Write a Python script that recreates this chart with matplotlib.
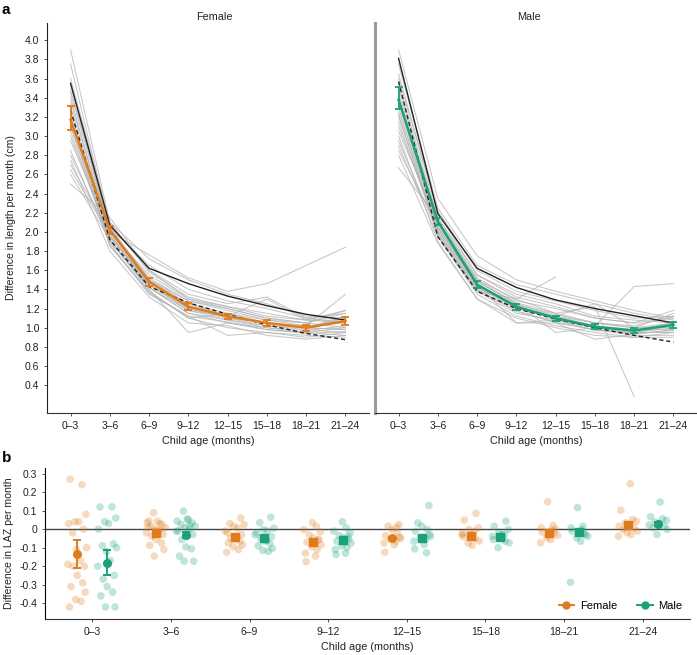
import matplotlib
matplotlib.use("Agg")
import matplotlib.pyplot as plt
from matplotlib.lines import Line2D
import numpy as np

plt.rcParams['font.family'] = ['Liberation Sans', 'DejaVu Sans']

ages = ['0–3', '3–6', '6–9', '9–12', '12–15', '15–18', '18–21', '21–24']

# ---- panel a: length velocity (cm per month) ----
female_mean = [3.17, 2.02, 1.48, 1.22, 1.12, 1.05, 1.00, 1.07]
female_lo = [3.06, 1.98, 1.44, 1.18, 1.095, 1.02, 0.97, 1.03]
female_hi = [3.31, 2.06, 1.52, 1.26, 1.145, 1.08, 1.03, 1.11]
male_mean = [3.38, 2.11, 1.45, 1.22, 1.10, 1.01, 0.97, 1.03]
male_lo = [3.28, 2.07, 1.415, 1.19, 1.075, 0.985, 0.945, 1.00]
male_hi = [3.51, 2.15, 1.485, 1.25, 1.125, 1.035, 0.995, 1.06]

# reference curves (solid / dashed)
female_ref_solid = [3.55, 2.07, 1.62, 1.46, 1.33, 1.23, 1.14, 1.08]
female_ref_dash = [3.27, 1.92, 1.43, 1.26, 1.14, 1.03, 0.94, 0.875]
male_ref_solid = [3.81, 2.19, 1.62, 1.42, 1.29, 1.20, 1.125, 1.05]
male_ref_dash = [3.57, 1.95, 1.38, 1.20, 1.09, 1.00, 0.92, 0.85]

nan = np.nan
female_countries = [
    [3.90, 2.10, 1.72, 1.50, 1.35, 1.25, 1.12, 1.10],
    [3.75, 2.05, 1.65, 1.40, 1.28, 1.20, 1.10, 1.05],
    [3.55, 2.00, 1.55, 1.30, 1.20, 1.10, 1.05, 1.00],
    [3.48, 2.08, 1.60, 1.35, 1.25, 1.32, 1.10, 1.15],
    [3.40, 1.95, 1.48, 1.22, 1.12, 1.05, 1.00, 0.98],
    [3.35, 2.02, 1.52, 1.28, 1.18, 1.08, 1.02, 1.05],
    [3.30, 1.98, 1.45, 1.20, 1.10, 1.02, 0.98, 0.95],
    [3.25, 1.90, 1.42, 1.15, 1.05, 1.00, 0.95, 0.92],
    [3.20, 1.85, 1.38, 1.10, 1.00, 0.95, 0.92, 0.90],
    [3.15, 2.05, 1.50, 1.25, 1.15, 1.08, 1.05, 1.18],
    [3.10, 1.95, 1.45, 1.18, 1.08, 1.02, 1.00, 1.10],
    [3.00, 1.92, 1.40, 0.95, 1.05, 0.98, 0.95, 1.00],
    [2.95, 2.00, 1.76, 1.52, 1.38, 1.46, 1.65, 1.84],
    [2.85, 1.88, 1.35, 1.12, 0.92, 0.95, 0.90, 0.95],
    [2.80, 1.95, 1.45, 1.20, 1.10, 1.05, 1.02, 1.35],
    [2.75, 1.80, 1.32, 1.05, 1.02, 0.92, 0.88, 0.92],
    [2.70, 2.00, 1.48, 1.25, 1.12, 1.30, 1.08, 1.05],
    [2.65, 1.97, 1.42, 1.15, 1.08, 1.00, 0.97, 1.02],
    [2.60, 1.92, 1.38, 1.10, 1.15, 1.05, 1.00, 1.12],
    [2.50, 2.15, 1.60, 1.30, 1.22, 1.12, 1.08, 1.18],
    [3.45, 2.03, 1.50, 1.28, 1.20, 1.10, 1.05, 1.15],
    [3.05, 1.90, 1.42, 1.18, 1.12, 1.05, 1.00, 0.98],
    [3.60, 2.10, 1.58, 1.32, 1.22, 1.15, 1.08, 1.08],
    [3.12, 1.86, 1.36, 1.12, 1.06, 0.98, 0.94, 0.96],
]
male_countries = [
    [3.90, 2.35, 1.75, 1.50, 1.38, 1.28, 1.18, 1.10],
    [3.75, 2.25, 1.65, 1.45, 1.35, 1.25, 1.15, 1.08],
    [3.65, 2.20, 1.55, 1.35, 1.25, 1.12, 1.08, 1.05],
    [3.55, 2.15, 1.50, 1.30, 1.15, 1.05, 1.00, 1.00],
    [3.50, 2.10, 1.48, 1.25, 1.12, 1.02, 0.98, 0.98],
    [3.45, 2.12, 1.52, 1.28, 1.20, 1.10, 1.05, 1.10],
    [3.40, 2.05, 1.45, 1.22, 1.10, 1.00, 0.95, 0.95],
    [3.35, 2.00, 1.40, 1.18, 1.05, 0.98, 0.92, 0.92],
    [3.30, 1.95, 1.35, 1.12, 1.02, 0.95, 0.90, 0.90],
    [3.25, 2.08, 1.48, 1.26, 1.15, 1.22, 0.28, nan],
    [3.20, 2.02, 1.42, 1.20, 1.10, 1.02, 1.43, 1.46],
    [3.15, 1.98, 1.38, 1.30, 1.53, nan, nan, nan],
    [3.10, 2.05, 1.45, 1.05, 1.08, 0.97, 0.95, 1.00],
    [3.05, 2.10, 1.50, 1.25, 0.95, 1.00, 0.95, 1.02],
    [3.00, 1.90, 1.30, 1.10, 1.00, 0.92, 0.90, 0.95],
    [2.95, 2.00, 1.42, 1.22, 1.12, 1.25, 1.00, 1.15],
    [2.90, 1.95, 1.38, 1.15, 1.08, 1.00, 0.98, 1.05],
    [2.85, 2.05, 1.45, 1.20, 1.12, 1.05, 1.02, 1.12],
    [2.80, 1.88, 1.30, 1.05, 1.05, 0.88, 0.93, 0.98],
    [2.67, 2.15, 1.55, 1.32, 1.22, 1.10, 1.05, 1.18],
    [3.60, 2.22, 1.60, 1.38, 1.28, 1.18, 1.10, 1.12],
    [3.38, 2.04, 1.44, 1.24, 1.14, 1.05, 1.00, 1.05],
    [3.22, 1.96, 1.40, 1.17, 1.06, 0.98, 0.94, 0.97],
]

# ---- panel b: difference in LAZ per month ----
laz_female_mean = [-0.133, -0.020, -0.045, -0.068, -0.050, -0.038, -0.023, 0.020]
laz_female_lo = [-0.209, -0.030, -0.055, -0.078, -0.060, -0.048, -0.033, 0.010]
laz_female_hi = [-0.060, -0.010, -0.035, -0.058, -0.040, -0.028, -0.013, 0.030]
laz_male_mean = [-0.182, -0.032, -0.050, -0.061, -0.047, -0.040, -0.016, 0.029]
laz_male_lo = [-0.250, -0.050, -0.060, -0.071, -0.057, -0.050, -0.026, 0.019]
laz_male_hi = [-0.112, -0.015, -0.040, -0.051, -0.037, -0.030, -0.006, 0.039]
female_shapes = ['o', 's', 's', 's', 'o', 's', 's', 's']
male_shapes = ['o', 'o', 's', 's', 's', 's', 's', 'o']

laz_female_pts = [
    [0.27, 0.24, 0.08, 0.04, 0.04, 0.03, 0.0, -0.02, -0.10, -0.11, -0.17, -0.19,
     -0.20, -0.20, -0.25, -0.29, -0.31, -0.34, -0.38, -0.39, -0.42],
    [0.088, 0.043, 0.034, 0.025, 0.016, 0.007, -0.002, -0.011, -0.02, -0.029, -0.038,
     -0.056, -0.074, -0.088, -0.11, -0.146, 0.03, 0.01, -0.005, 0.045],
    [0.06, 0.03, 0.025, 0.015, 0.005, -0.01, -0.03, -0.05, -0.055, -0.065, -0.075,
     -0.085, -0.095, -0.11, -0.125, -0.04, -0.02],
    [0.035, 0.015, -0.003, -0.015, -0.03, -0.048, -0.055, -0.07, -0.085, -0.095,
     -0.11, -0.13, -0.145, -0.175, -0.06],
    [0.025, 0.016, -0.002, -0.02, -0.035, -0.043, -0.055, -0.065, -0.075, -0.085,
     -0.125, 0.01, -0.05],
    [0.085, 0.049, 0.007, -0.002, -0.011, -0.023, -0.034, -0.042, -0.052, -0.065,
     -0.074, -0.088, -0.03],
    [0.148, 0.02, 0.007, -0.005, -0.016, -0.023, -0.034, -0.047, -0.056, -0.074, 0.0],
    [0.245, 0.103, 0.052, 0.043, 0.034, 0.025, 0.016, 0.007, -0.002, -0.011, -0.02,
     -0.029, -0.038],
]
laz_male_pts = [
    [0.12, 0.12, 0.06, 0.04, 0.03, 0.0, -0.08, -0.09, -0.10, -0.12, -0.17, -0.20,
     -0.25, -0.27, -0.31, -0.34, -0.36, -0.42, -0.42],
    [0.097, 0.056, 0.043, 0.034, 0.025, 0.016, 0.007, -0.002, -0.011, -0.029, -0.056,
     -0.096, -0.106, -0.146, -0.173, -0.173, 0.02, -0.01, 0.05],
    [0.065, 0.035, 0.005, -0.003, -0.01, -0.03, -0.04, -0.05, -0.065, -0.078, -0.09,
     -0.105, -0.115, -0.12, -0.02, -0.06],
    [0.04, 0.007, -0.01, -0.02, -0.035, -0.048, -0.055, -0.065, -0.075, -0.09, -0.10,
     -0.11, -0.13, -0.137, -0.04],
    [0.128, 0.034, 0.016, -0.002, -0.011, -0.029, -0.047, -0.056, -0.065, -0.083,
     -0.106, -0.128, -0.04],
    [0.043, 0.016, -0.002, -0.016, -0.029, -0.038, -0.047, -0.056, -0.065, -0.074,
     -0.10, -0.03],
    [0.116, 0.016, 0.007, -0.002, -0.011, -0.023, -0.038, -0.047, -0.065, -0.287, -0.03],
    [0.146, 0.067, 0.056, 0.047, 0.038, 0.031, 0.023, 0.016, 0.007, -0.002, -0.029],
]
# hand-set horizontal spread pattern for the country points
jitter = [-0.09, 0.06, 0.11, -0.03, 0.02, -0.11, 0.08, -0.06, 0.12, -0.01, 0.04,
          -0.12, 0.09, -0.05, 0.0, 0.07, -0.08, 0.10, -0.02, 0.05, -0.10, 0.03]

ORANGE = '#E07B1C'
GREEN = '#1BA17A'
W, H = 697, 655


def rect(l, t, r, b):
    return [l / W, 1 - b / H, (r - l) / W, (b - t) / H]


fig = plt.figure(figsize=(W / 100, H / 100), dpi=100)
ax_f = fig.add_axes(rect(47, 23, 369, 413))
ax_m = fig.add_axes(rect(375, 23, 697, 413))
ax_b = fig.add_axes(rect(45, 468, 690, 619))

x = np.arange(len(ages))

for ax, countries, mean, lo, hi, ref_s, ref_d, col in [
        (ax_f, female_countries, female_mean, female_lo, female_hi, female_ref_solid, female_ref_dash, ORANGE),
        (ax_m, male_countries, male_mean, male_lo, male_hi, male_ref_solid, male_ref_dash, GREEN)]:
    for c in countries:
        ax.plot(x, c, color='#b4b4b4', lw=0.75, alpha=0.75, zorder=1)
    ax.plot(x, ref_s, color='#222222', lw=1.0, zorder=2)
    ax.plot(x, ref_d, color='#222222', lw=1.0, ls=(0, (3, 2)), zorder=2)
    m = np.array(mean)
    ax.errorbar(x, m, yerr=[m - np.array(lo), np.array(hi) - m], color=col, lw=1.8,
                elinewidth=1.3, capsize=3, capthick=1.3, zorder=3)
    ax.set_xlim(-0.6, 7.6)
    ax.set_ylim(0.11, 4.18)
    ax.set_xticks(x)
    ax.set_xticklabels(ages, fontsize=7.5, color='#222222')
    ax.tick_params(axis='both', length=2.5, width=0.6, color='#333333', pad=3)
    ax.spines['top'].set_visible(False)
    ax.spines['right'].set_visible(False)
    ax.spines['bottom'].set_color('#333333')
    ax.spines['bottom'].set_linewidth(0.8)
    ax.set_xlabel('Child age (months)', fontsize=7.8, color='#222222', labelpad=4)

ax_f.set_yticks(np.round(np.arange(0.4, 4.01, 0.2), 1))
ax_f.set_yticklabels(['%.1f' % v for v in np.arange(0.4, 4.01, 0.2)], fontsize=7.5, color='#222222')
ax_f.spines['left'].set_linewidth(0.8)
ax_f.spines['left'].set_color('#222222')
ax_f.set_ylabel('Difference in length per month (cm)', fontsize=7.6, color='#222222', labelpad=6)
ax_m.set_yticks([])
ax_m.spines['left'].set_color('#9a9a9a')
ax_m.spines['left'].set_linewidth(2.2)

fig.text(214 / W, 1 - 17 / H, 'Female', ha='center', va='center', fontsize=7.8, color='#222222')
fig.text(529 / W, 1 - 17 / H, 'Male', ha='center', va='center', fontsize=7.8, color='#222222')
fig.text(2 / W, 1 - 10 / H, 'a', ha='left', va='center', fontsize=11, fontweight='bold')
fig.text(2 / W, 1 - 458 / H, 'b', ha='left', va='center', fontsize=11, fontweight='bold')

# ---- panel b ----
dodge = 0.19
ax_b.axhline(0, color='#444444', lw=1.0, zorder=1)
for sign, pts, mean, lo, hi, shapes, col in [
        (-1, laz_female_pts, laz_female_mean, laz_female_lo, laz_female_hi, female_shapes, ORANGE),
        (1, laz_male_pts, laz_male_mean, laz_male_lo, laz_male_hi, male_shapes, GREEN)]:
    for i, vals in enumerate(pts):
        xs = [i + sign * dodge + jitter[(k + 3 * i) % len(jitter)] for k in range(len(vals))]
        ax_b.scatter(xs, vals, s=30, color=col, alpha=0.28, edgecolors='none', zorder=2)
        ax_b.errorbar(i + sign * dodge, mean[i], yerr=[[mean[i] - lo[i]], [hi[i] - mean[i]]],
                      color=col, lw=1.4, capsize=3, capthick=1.4, zorder=3)
        ax_b.plot(i + sign * dodge, mean[i], marker=shapes[i], ms=5.5, color=col, zorder=4)

ax_b.set_xlim(-0.6, 7.6)
ax_b.set_ylim(-0.485, 0.33)
ax_b.set_xticks(x)
ax_b.set_xticklabels(ages, fontsize=7.5, color='#222222')
yt = [-0.4, -0.3, -0.2, -0.1, 0, 0.1, 0.2, 0.3]
ax_b.set_yticks(yt)
ax_b.set_yticklabels(['%.1f' % v if v != 0 else '0' for v in yt], fontsize=7.5, color='#222222')
ax_b.tick_params(axis='both', length=2.5, width=0.6, color='#333333', pad=3)
ax_b.spines['top'].set_visible(False)
ax_b.spines['right'].set_visible(False)
ax_b.spines['left'].set_linewidth(0.8)
ax_b.spines['bottom'].set_linewidth(0.8)
ax_b.spines['bottom'].set_color('#333333')
ax_b.set_xlabel('Child age (months)', fontsize=7.8, color='#222222', labelpad=4)
ax_b.set_ylabel('Difference in LAZ per month', fontsize=7.6, color='#222222', labelpad=4)

handles = [Line2D([0], [0], color=ORANGE, marker='o', ms=5, lw=1.4),
           Line2D([0], [0], color=GREEN, marker='o', ms=5, lw=1.4)]
ax_b.legend(handles, ['Female', 'Male'], loc='lower right', ncol=2, frameon=False,
            fontsize=8, handlelength=1.4, handletextpad=0.5, columnspacing=1.8,
            borderaxespad=0.3)

fig.savefig('out.png', dpi=100)
